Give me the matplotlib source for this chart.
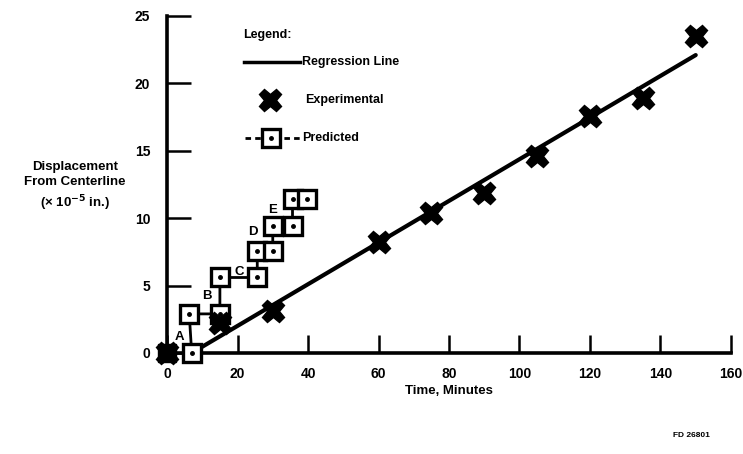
import matplotlib.pyplot as plt

plt.rcParams['font.family'] = ['Liberation Sans', 'DejaVu Sans']
plt.rcParams['font.weight'] = 'bold'

# experimental points (time in minutes, displacement x 1e-5 in.)
exp_time = [0, 15, 30, 60, 75, 90, 105, 120, 135, 150]
exp_disp = [0, 2.2, 3.1, 8.2, 10.4, 11.9, 14.6, 17.6, 18.9, 23.5]

# regression line end points
reg_time = [7, 150]
reg_disp = [0, 22.1]

# predicted path (boxes joined step by step)
pred_time = [7, 6.3, 15, 15, 25.6, 25.6, 30, 30, 35.6, 35.6, 39.8]
pred_disp = [0, 2.9, 2.9, 5.6, 5.6, 7.6, 7.6, 9.4, 9.4, 11.4, 11.4]

# stage labels
stage_names = ['A', 'B', 'C', 'D', 'E']
stage_time = [3.4, 11.3, 20.4, 24.4, 30.0]
stage_disp = [1.2, 4.2, 6.0, 9.0, 10.6]

x_ticks = [0, 20, 40, 60, 80, 100, 120, 140, 160]
y_ticks = [0, 5, 10, 15, 20, 25]

fig = plt.figure(figsize=(7.43, 4.54), dpi=100)
ax = fig.add_axes([0.2248, 0.2225, 0.759, 0.7423])

# regression line
ax.plot(reg_time, reg_disp, color='black', lw=3, solid_capstyle='round')

# predicted
ax.plot(pred_time, pred_disp, color='black', lw=2, marker='s', ms=13.5,
        mfc='white', mec='black', mew=2.4, clip_on=False, zorder=4)
ax.plot(pred_time, pred_disp, ls='none', marker='o', ms=2.5, color='black',
        clip_on=False, zorder=5)

# experimental
ax.plot(exp_time, exp_disp, ls='none', marker='X', ms=16, color='black',
        mec='black', clip_on=False, zorder=6)
ax.plot(exp_time[:1], exp_disp[:1], ls='none', marker='s', ms=13, color='black',
        clip_on=False, zorder=7)

for name, t, d in zip(stage_names, stage_time, stage_disp):
    ax.text(t, d, name, fontsize=9.5, fontweight='bold', ha='center', va='center')

# legend drawn by hand
ax.text(21.6, 23.6, 'Legend:', fontsize=9, fontweight='bold', va='center')
ax.plot([21.8, 37.7], [21.6, 21.6], color='black', lw=2.5)
ax.text(38.3, 21.6, 'Regression Line', fontsize=9, fontweight='bold', va='center')
ax.plot([29.2], [18.8], ls='none', marker='X', ms=16, color='black')
ax.text(39.1, 18.8, 'Experimental', fontsize=9, fontweight='bold', va='center')
ax.plot([22.1, 37.7], [15.95, 15.95], color='black', lw=2, ls=(0, (2, 1.5)))
ax.plot([29.5], [15.95], ls='none', marker='s', ms=13.5, mfc='white', mec='black', mew=2.4)
ax.plot([29.5], [15.95], ls='none', marker='o', ms=2.5, color='black')
ax.text(38.3, 15.95, 'Predicted', fontsize=9, fontweight='bold', va='center')

ax.set_xlim(0, 160)
ax.set_ylim(0, 25)
ax.set_xticks(x_ticks)
ax.set_yticks(y_ticks)
ax.set_xticklabels([str(v) for v in x_ticks], fontsize=10, fontweight='bold')
ax.set_yticklabels([str(v) for v in y_ticks], fontsize=10, fontweight='bold')
ax.tick_params(axis='x', direction='in', length=13, width=1.8, pad=10)
ax.tick_params(axis='y', direction='in', length=17, width=1.8, pad=12)
for side in ['top', 'right']:
    ax.spines[side].set_visible(False)
for side in ['left', 'bottom']:
    ax.spines[side].set_linewidth(2.6)

ax.set_xlabel('Time, Minutes', fontsize=9.5, fontweight='bold', labelpad=3)
fig.text(0.101, 0.588, 'Displacement\nFrom Centerline\n(\u00d7 10$^{-5}$ in.)',
         fontsize=9.5, fontweight='bold', ha='center', va='center', linespacing=1.35)
fig.text(0.93, 0.037, 'FD 26801', fontsize=6, fontweight='bold', ha='center')

fig.savefig('out.png', dpi=100)
